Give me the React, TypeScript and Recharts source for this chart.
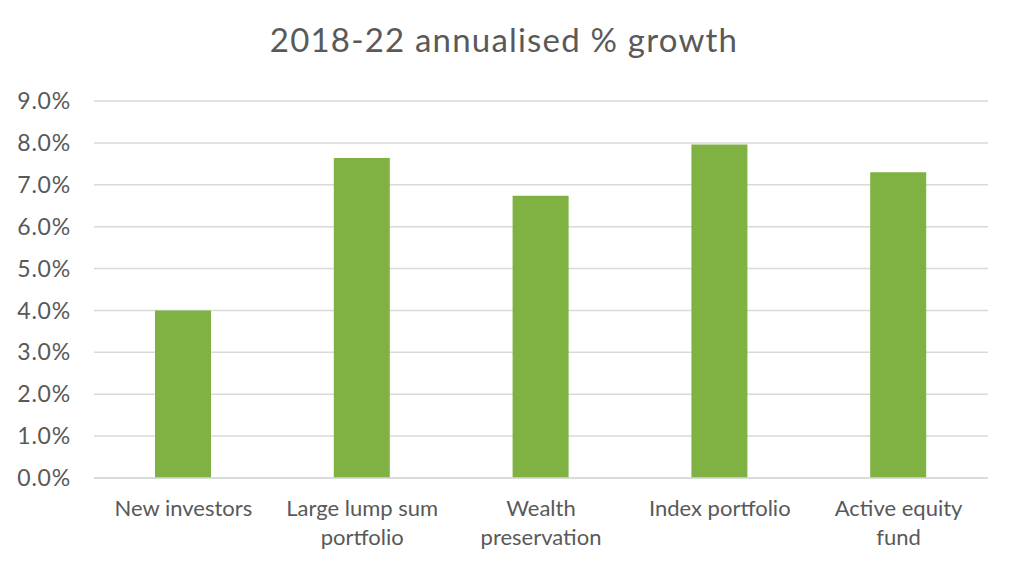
import { BarChart, Bar, XAxis, YAxis, CartesianGrid } from 'recharts';

const CATEGORIES = ['New investors', 'Large lump sum portfolio', 'Wealth preservation', 'Index portfolio', 'Active equity fund'];
const TICK_LABELS = [['New investors'], ['Large lump sum', 'portfolio'], ['Wealth', 'preservation'], ['Index portfolio'], ['Active equity', 'fund']];
const GROWTH = [0.04, 0.0764, 0.0674, 0.0796, 0.073];
const Y_TICKS = [0, 0.01, 0.02, 0.03, 0.04, 0.05, 0.06, 0.07, 0.08, 0.09];

const FONT = 'Lato, "Open Sans", sans-serif';
const TEXT = '#595959';

const data = CATEGORIES.map((name, i) => ({ name, value: GROWTH[i] }));

const CategoryTick = ({ x, y, index }: any) => {
  const lines = TICK_LABELS[index] || [];
  return (
    <text x={x} y={y} textAnchor="middle" fill={TEXT} fontSize={22} fontFamily={FONT}>
      {lines.map((l, i) => (
        <tspan key={i} x={x} dy={i === 0 ? '0.71em' : 29}>
          {l}
        </tspan>
      ))}
    </text>
  );
};

export default function App() {
  return (
    <div style={{ position: 'absolute', left: 0, top: 0, width: 1024, height: 571, background: '#fff' }}>
      <div
        style={{
          position: 'absolute',
          left: -8,
          top: 19,
          width: 1024,
          textAlign: 'center',
          fontFamily: FONT,
          fontSize: 33,
          letterSpacing: 1.2,
          lineHeight: '40px',
          color: TEXT,
        }}
      >
        2018-22 annualised % growth
      </div>
      <BarChart width={1024} height={571} data={data} margin={{ top: 101, right: 36, bottom: 13, left: 0 }}>
        <CartesianGrid vertical={false} stroke="#d9d9d9" strokeWidth={1.5} />
        <XAxis
          dataKey="name"
          height={80}
          tickLine={false}
          axisLine={{ stroke: '#d9d9d9', strokeWidth: 1.5 }}
          tickSize={0}
          tickMargin={22}
          interval={0}
          tick={<CategoryTick />}
        />
        <YAxis
          width={94}
          domain={[0, 0.09]}
          ticks={Y_TICKS}
          tickFormatter={(v) => (v * 100).toFixed(1) + '%'}
          axisLine={false}
          tickLine={false}
          tickSize={0}
          tickMargin={23}
          tick={{ fill: TEXT, fontSize: 23, fontFamily: FONT, letterSpacing: 0.8 }}
        />
        <Bar dataKey="value" fill="#7fb242" barSize={56} isAnimationActive={false} />
      </BarChart>
    </div>
  );
}
